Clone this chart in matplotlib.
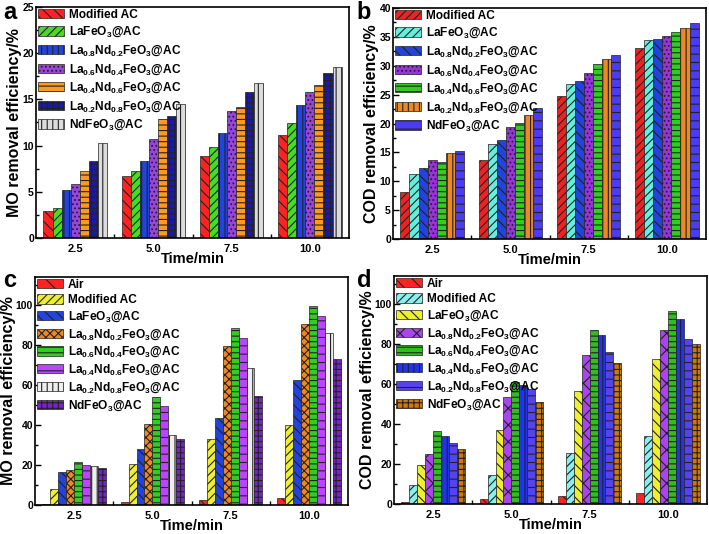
import numpy as np
import matplotlib
matplotlib.use("Agg")
import matplotlib.pyplot as plt
from matplotlib.ticker import MultipleLocator, FixedLocator

plt.rcParams['font.family'] = ['Liberation Sans', 'DejaVu Sans']
plt.rcParams['font.weight'] = 'bold'
plt.rcParams['mathtext.fontset'] = 'custom'
plt.rcParams['mathtext.rm'] = 'Liberation Sans:bold'
plt.rcParams['mathtext.bf'] = 'Liberation Sans:bold'
plt.rcParams['mathtext.default'] = 'bf'
plt.rcParams['hatch.linewidth'] = 0.8

times = ['2.5', '5.0', '7.5', '10.0']

### Panel a: MO removal (7 samples)
labels_a = ['Modified AC', 'LaFeO$_3$@AC', 'La$_{0.8}$Nd$_{0.2}$FeO$_3$@AC',
            'La$_{0.6}$Nd$_{0.4}$FeO$_3$@AC', 'La$_{0.4}$Nd$_{0.6}$FeO$_3$@AC',
            'La$_{0.2}$Nd$_{0.8}$FeO$_3$@AC', 'NdFeO$_3$@AC']
mo_a = [
    [2.9, 6.7, 8.9, 11.1],
    [3.2, 7.2, 9.8, 12.4],
    [5.2, 8.3, 11.4, 14.4],
    [5.8, 10.7, 13.7, 15.8],
    [7.2, 12.9, 14.2, 16.6],
    [8.3, 13.2, 15.8, 17.9],
    [10.3, 14.5, 16.8, 18.5],
]
colors_a = ['#ff2222', '#44dd22', '#2244dd', '#9944dd', '#ff9922', '#1a1aa8', '#dcdcdc']
hatches_a = ['\\\\\\', '////', '|||', '....', '---', '+++', '|||']

### Panel b: COD removal (7 samples)
labels_b = labels_a
cod_b = [
    [8.2, 13.6, 24.7, 33.0],
    [11.3, 16.4, 26.9, 34.4],
    [12.3, 17.2, 27.4, 34.7],
    [13.6, 19.4, 28.8, 35.1],
    [13.4, 20.1, 30.3, 35.8],
    [14.9, 21.4, 31.1, 36.5],
    [15.3, 22.6, 31.9, 37.4],
]
colors_b = ['#ee2222', '#66eedd', '#2244dd', '#9933dd', '#33cc22', '#ee8822', '#4a3cf0']
hatches_b = ['////', '////', '\\\\\\', '....', '---', '|||', '--']

### Panel c: MO removal (8 samples)
labels_c = ['Air', 'Modified AC', 'LaFeO$_3$@AC', 'La$_{0.8}$Nd$_{0.2}$FeO$_3$@AC',
            'La$_{0.6}$Nd$_{0.4}$FeO$_3$@AC', 'La$_{0.4}$Nd$_{0.6}$FeO$_3$@AC',
            'La$_{0.2}$Nd$_{0.8}$FeO$_3$@AC', 'NdFeO$_3$@AC']
mo_c = [
    [0.5, 1.3, 2.5, 3.5],
    [8.0, 20.5, 33.0, 40.0],
    [16.5, 28.0, 43.5, 62.5],
    [17.5, 40.5, 79.5, 90.5],
    [21.5, 54.0, 88.5, 99.5],
    [20.0, 49.5, 83.5, 94.5],
    [19.5, 35.0, 68.5, 86.0],
    [18.7, 33.0, 54.5, 73.0],
]
colors_c = ['#ff2222', '#eeee33', '#2244dd', '#ee8822', '#33cc22', '#bb44ff', '#eeeeee', '#7722cc']
hatches_c = ['\\\\', '////', '\\\\\\', 'xxxx', '---', '--', '|||', '+++']

### Panel d: COD removal (8 samples)
labels_d = labels_c
cod_d = [
    [1.2, 2.5, 4.0, 5.5],
    [9.5, 14.5, 25.5, 34.0],
    [19.5, 37.0, 56.5, 72.5],
    [25.0, 53.5, 74.5, 87.0],
    [36.5, 61.0, 87.0, 96.5],
    [34.0, 59.5, 84.5, 92.5],
    [30.5, 57.5, 76.0, 82.5],
    [27.5, 51.0, 70.5, 80.0],
]
colors_d = ['#ff2222', '#88eeee', '#eeee33', '#aa44ee', '#33bb22', '#2233ee', '#5544ee', '#cc7711']
hatches_d = ['\\\\', '////', '\\\\\\', 'xx', '---', '|||', '--', '+++']


def draw(ax, values, labels, colors, hatches, ylabel, ymax, ymajor, yminor, lspace):
    n = len(values)
    x = np.arange(len(times))
    w = 0.81 / n
    for i in range(n):
        ax.bar(x - 0.405 + w * (i + 0.5), values[i], width=w, color=colors[i],
               edgecolor='#222222', linewidth=0.5, hatch=hatches[i], label=labels[i])
    ax.set_xlim(-0.5, len(times) - 0.5)
    ax.set_ylim(0, ymax)
    ax.set_xticks(x)
    ax.set_xticklabels(times)
    ax.xaxis.set_minor_locator(FixedLocator([0.5, 1.5, 2.5]))
    ax.yaxis.set_major_locator(MultipleLocator(ymajor))
    ax.yaxis.set_minor_locator(MultipleLocator(yminor))
    ax.tick_params(axis='x', which='major', length=0, pad=4, labelsize=8)
    ax.tick_params(axis='x', which='minor', direction='in', length=3, width=1)
    ax.tick_params(axis='y', which='major', direction='in', length=4, width=1, labelsize=7.5, pad=1.5)
    ax.tick_params(axis='y', which='minor', direction='in', length=2.5, width=1)
    for lab in ax.get_xticklabels() + ax.get_yticklabels():
        lab.set_fontweight('bold')
    for s in ax.spines.values():
        s.set_linewidth(1.2)
    ax.set_xlabel('Time/min', fontsize=10.5, fontweight='bold', labelpad=-1)
    ax.set_ylabel(ylabel, fontsize=11.5, fontweight='bold', labelpad=0)
    ax.legend(loc='upper left', bbox_to_anchor=(0, 1), frameon=False, fontsize=8.6,
              borderaxespad=0.05, borderpad=0.1, handlelength=2.2, handleheight=0.8,
              handletextpad=0.4, labelspacing=lspace)


fig = plt.figure(figsize=(7.09, 5.34), dpi=100)
ax_a = fig.add_axes([0.0508, 0.5543, 0.4415, 0.4326])
ax_b = fig.add_axes([0.5543, 0.5524, 0.4415, 0.4326])
ax_c = fig.add_axes([0.0494, 0.0543, 0.4415, 0.427])
ax_d = fig.add_axes([0.5557, 0.0562, 0.4415, 0.427])

draw(ax_a, mo_a, labels_a, colors_a, hatches_a, 'MO removal efficiency/%', 25, 5, 2.5, 0.35)
draw(ax_b, cod_b, labels_b, colors_b, hatches_b, 'COD removal efficiency/%', 40, 5, 2.5, 0.35)
draw(ax_c, mo_c, labels_c, colors_c, hatches_c, 'MO removal efficiency/%', 114, 20, 10, 0.28)
draw(ax_d, cod_d, labels_d, colors_d, hatches_d, 'COD removal efficiency/%', 114, 20, 10, 0.28)

fig.text(0.004, 0.998, 'a', fontsize=17, fontweight='bold', va='top')
fig.text(0.503, 0.998, 'b', fontsize=17, fontweight='bold', va='top')
fig.text(0.004, 0.497, 'c', fontsize=17, fontweight='bold', va='top')
fig.text(0.503, 0.497, 'd', fontsize=17, fontweight='bold', va='top')

plt.savefig('out.png', dpi=100)
